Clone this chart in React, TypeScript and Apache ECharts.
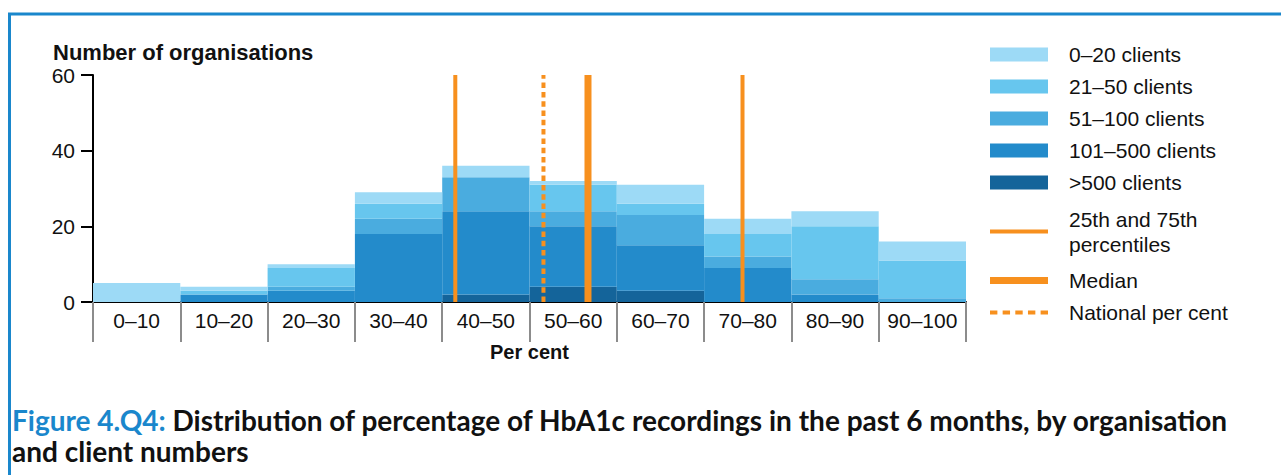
import React, { useEffect, useRef } from "react";
import * as echarts from "echarts";

const categories = ["0–10", "10–20", "20–30", "30–40", "40–50", "50–60", "60–70", "70–80", "80–90", "90–100"];
const over500 = [0, 0, 0, 0, 2, 4, 3, 0, 0, 0];
const clients101to500 = [0, 2, 3, 18, 22, 16, 12, 9, 2, 0];
const clients51to100 = [0, 0, 1, 4, 9, 4, 8, 3, 4, 1];
const clients21to50 = [0, 1, 5, 4, 0, 7, 3, 6, 14, 10];
const clients0to20 = [5, 1, 1, 3, 3, 1, 5, 4, 4, 5];

const percentile25 = 41.5;
const medianValue = 56.7;
const percentile75 = 74.4;
const nationalValue = 51.6;

const yTicks = [0, 20, 40, 60];

const ORANGE = "#F7901E";
const BLUE = "#1A87CC";
const FONT = "'Liberation Sans', Arial, sans-serif";

const barSeries = [
  { name: ">500 clients", data: over500, color: "#14649A" },
  { name: "101–500 clients", data: clients101to500, color: "#238BCB" },
  { name: "51–100 clients", data: clients51to100, color: "#4AACDF" },
  { name: "21–50 clients", data: clients21to50, color: "#67C6EE" },
  { name: "0–20 clients", data: clients0to20, color: "#9DDAF6" },
];

const PCT = "25th and 75th percentiles";

export default function App() {
  const ref = useRef<HTMLDivElement>(null);
  useEffect(() => {
    document.body.style.margin = "0";
    const chart = echarts.init(ref.current!, null, { renderer: "svg" });
    const yMax = yTicks[yTicks.length - 1];
    const vline = (x: number) => [[x, 0], [x, yMax]];
    const option: any = {
      animation: false,
      textStyle: { fontFamily: FONT },
      grid: { left: 93, right: 315, top: 75, bottom: 173 },
      title: [
        {
          left: 12,
          top: 404,
          padding: 0,
          text:
            "{b|Figure 4.Q4:} Distribution of percentage of HbA1c recordings in the past 6 months, by organisation\nand client numbers",
          textStyle: {
            fontFamily: "Lato, sans-serif",
            fontWeight: "bold",
            fontSize: 28,
            lineHeight: 31,
            color: "#111",
            rich: {
              b: { fontFamily: "Lato, sans-serif", fontWeight: "bold", fontSize: 28, lineHeight: 31, color: BLUE },
            },
          },
        },
      ],
      graphic: [
        {
          type: "polyline",
          shape: { points: [[9.5, 475], [9.5, 14], [1281, 14]] },
          style: { stroke: BLUE, lineWidth: 3, fill: null },
          silent: true,
        },
      ],
      legend: {
        orient: "vertical",
        left: 990,
        top: 42,
        padding: 0,
        itemWidth: 58,
        itemHeight: 14,
        itemGap: 7,
        selectedMode: false,
        textStyle: { fontFamily: FONT, fontSize: 21, lineHeight: 25, color: "#111", padding: [0, 0, 0, 16] },
        formatter: (n: string) => (n === PCT ? "25th and 75th\npercentiles" : n),
        data: [
          { name: "0–20 clients", icon: "rect" },
          { name: "21–50 clients", icon: "rect" },
          { name: "51–100 clients", icon: "rect" },
          { name: "101–500 clients", icon: "rect" },
          { name: ">500 clients", icon: "rect" },
          {
            name: PCT,
            icon: "path://M0,0h58v4h-58z",
            itemStyle: { color: ORANGE },
            textStyle: { fontFamily: FONT, fontSize: 21, lineHeight: 25, color: "#111", padding: [5, 0, 4, 16] },
          },
          { name: "Median", icon: "path://M0,0h58v7h-58z", itemStyle: { color: ORANGE } },
          {
            name: "National per cent",
            icon: "path://M0,0h7v4h-7z M12,0h7v4h-7z M24,0h7v4h-7z M36,0h7v4h-7z M48,0h7v4h-7z",
            itemStyle: { color: ORANGE },
          },
        ],
      },
      xAxis: [
        {
          type: "category",
          data: categories,
          name: "Per cent",
          nameLocation: "middle",
          nameGap: 40,
          nameTextStyle: { fontFamily: FONT, fontSize: 20, fontWeight: "bold", color: "#111" },
          axisLine: { lineStyle: { color: "#000", width: 2 } },
          axisTick: { show: true, interval: 0, length: 40, lineStyle: { color: "#8c8c8c", width: 2 } },
          axisLabel: { interval: 0, fontFamily: FONT, fontSize: 21, color: "#111", margin: 8 },
          splitLine: { show: false },
        },
        { type: "value", min: 0, max: 100, show: false },
      ],
      yAxis: {
        type: "value",
        min: 0,
        max: yMax,
        interval: 20,
        name: "Number of organisations",
        nameLocation: "end",
        nameGap: 12,
        nameTextStyle: {
          fontFamily: FONT,
          fontSize: 22,
          fontWeight: "bold",
          color: "#111",
          align: "left",
          padding: [0, 0, 0, -40],
        },
        axisLine: { show: true, lineStyle: { color: "#000", width: 2 } },
        axisTick: { show: true, length: 12, lineStyle: { color: "#000", width: 2 } },
        axisLabel: { fontFamily: FONT, fontSize: 21, color: "#111", margin: 18 },
        splitLine: { show: false },
      },
      series: [
        ...barSeries.map((s) => ({
          name: s.name,
          type: "bar",
          stack: "total",
          barCategoryGap: "0%",
          data: s.data,
          itemStyle: { color: s.color },
          emphasis: { disabled: true },
        })),
        {
          name: PCT,
          type: "line",
          xAxisIndex: 1,
          data: vline(percentile25),
          symbol: "none",
          z: 5,
          color: ORANGE,
          lineStyle: { color: ORANGE, width: 4 },
        },
        {
          name: PCT,
          type: "line",
          xAxisIndex: 1,
          data: vline(percentile75),
          symbol: "none",
          z: 5,
          color: ORANGE,
          lineStyle: { color: ORANGE, width: 4 },
        },
        {
          name: "Median",
          type: "line",
          xAxisIndex: 1,
          data: vline(medianValue),
          symbol: "none",
          z: 5,
          color: ORANGE,
          lineStyle: { color: ORANGE, width: 7 },
        },
        {
          name: "National per cent",
          type: "line",
          xAxisIndex: 1,
          data: vline(nationalValue),
          symbol: "none",
          z: 5,
          color: ORANGE,
          lineStyle: { color: ORANGE, width: 4, type: [5.5, 3.8] },
        },
      ],
    };
    chart.setOption(option);
    return () => chart.dispose();
  }, []);
  return <div ref={ref} style={{ width: 1281, height: 475 }} />;
}
